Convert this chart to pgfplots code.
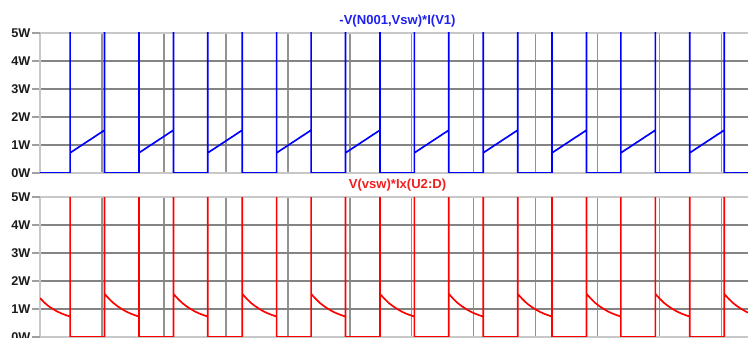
\documentclass[border=0pt]{standalone}
\usepackage{pgfplots}
\pgfplotsset{compat=1.18}
\usepackage{fontspec}
\setmainfont{Liberation Sans}
\definecolor{frame}{HTML}{C8C8C8}
\definecolor{hgrid}{HTML}{848484}
\definecolor{vgrid}{HTML}{929292}
\definecolor{tickc}{HTML}{A0A0A0}
\definecolor{lbl}{HTML}{1A1A1A}
\pgfplotsset{
  lt/.style={
    scale only axis, width=536.25pt, height=105pt,
    xmin=0, xmax=11.538, ymin=0, ymax=5,
    xtick={1,...,11}, xticklabels={}, xtick style={draw=none},
    ytick={1,2,3,4}, yticklabels={1W,2W,3W,4W},
    extra y ticks={0,5}, extra y tick labels={0W,5W},
    extra y tick style={grid=none},
    grid=major,
    x grid style={vgrid, line width=1pt},
    y grid style={hgrid, line width=1.05pt},
    tick align=outside, major tick length=6pt,
    ytick style={tickc, line width=1pt},
    yticklabel style={font=\bfseries\fontsize{9.5}{10}\selectfont, text=lbl, inner sep=1pt},
    axis line style={frame, line width=1pt},
    title style={font=\bfseries\fontsize{9.8}{11}\selectfont, at={(0.5,1)}, anchor=center, yshift=3pt},
    clip=true,
  }
}
\begin{document}
\begin{tikzpicture}
\path[use as bounding box] (0,0) rectangle (561pt,253.5pt);
\clip (0,0) rectangle (561pt,253.5pt);
\begin{axis}[lt, at={(30pt,123.75pt)}, anchor=south west,
  title={\textcolor[HTML]{2020F0}{-V(N001,Vsw)*I(V1)}}]
\addplot[blue, line width=1.25pt, line join=round] coordinates {
(0,0)
(0.486,0)(0.486,8)(0.486,0.72)(1.042,1.53)(1.042,8)(1.042,0)
(1.597,0)(1.597,8)(1.597,0.72)(2.153,1.53)(2.153,8)(2.153,0)
(2.708,0)(2.708,8)(2.708,0.72)(3.264,1.53)(3.264,8)(3.264,0)
(3.819,0)(3.819,8)(3.819,0.72)(4.375,1.53)(4.375,8)(4.375,0)
(4.930,0)(4.930,8)(4.930,0.72)(5.486,1.53)(5.486,8)(5.486,0)
(6.041,0)(6.041,8)(6.041,0.72)(6.597,1.53)(6.597,8)(6.597,0)
(7.152,0)(7.152,8)(7.152,0.72)(7.708,1.53)(7.708,8)(7.708,0)
(8.263,0)(8.263,8)(8.263,0.72)(8.819,1.53)(8.819,8)(8.819,0)
(9.374,0)(9.374,8)(9.374,0.72)(9.930,1.53)(9.930,8)(9.930,0)
(10.485,0)(10.485,8)(10.485,0.72)(11.041,1.53)(11.041,8)(11.041,0)
(11.6,0)
};
\end{axis}
\begin{axis}[lt, at={(30pt,0.75pt)}, anchor=south west,
  title={\textcolor[HTML]{F02020}{V(vsw)*Ix(U2:D)}}]
\addplot[red, line width=1.25pt, line join=round] coordinates {
(0,1.39)(0.070,1.23)(0.139,1.10)(0.209,1.00)(0.278,0.91)(0.348,0.84)(0.417,0.78)
(0.486,0.73)(0.486,8)(0.486,0)(1.042,0)(1.042,8)(1.042,1.54)
(1.112,1.37)(1.181,1.22)(1.251,1.10)(1.320,1.00)(1.390,0.91)(1.459,0.84)(1.529,0.78)
(1.597,0.73)(1.597,8)(1.597,0)(2.153,0)(2.153,8)(2.153,1.54)
(2.223,1.37)(2.292,1.22)(2.362,1.10)(2.431,1.00)(2.501,0.91)(2.570,0.84)(2.640,0.78)
(2.708,0.73)(2.708,8)(2.708,0)(3.264,0)(3.264,8)(3.264,1.54)
(3.334,1.37)(3.403,1.22)(3.473,1.10)(3.542,1.00)(3.612,0.91)(3.681,0.84)(3.751,0.78)
(3.819,0.73)(3.819,8)(3.819,0)(4.375,0)(4.375,8)(4.375,1.54)
(4.445,1.37)(4.514,1.22)(4.584,1.10)(4.653,1.00)(4.723,0.91)(4.792,0.84)(4.862,0.78)
(4.930,0.73)(4.930,8)(4.930,0)(5.486,0)(5.486,8)(5.486,1.54)
(5.556,1.37)(5.625,1.22)(5.695,1.10)(5.764,1.00)(5.834,0.91)(5.903,0.84)(5.973,0.78)
(6.041,0.73)(6.041,8)(6.041,0)(6.597,0)(6.597,8)(6.597,1.54)
(6.667,1.37)(6.736,1.22)(6.806,1.10)(6.875,1.00)(6.945,0.91)(7.014,0.84)(7.084,0.78)
(7.152,0.73)(7.152,8)(7.152,0)(7.708,0)(7.708,8)(7.708,1.54)
(7.778,1.37)(7.847,1.22)(7.917,1.10)(7.986,1.00)(8.056,0.91)(8.125,0.84)(8.195,0.78)
(8.263,0.73)(8.263,8)(8.263,0)(8.819,0)(8.819,8)(8.819,1.54)
(8.889,1.37)(8.958,1.22)(9.028,1.10)(9.097,1.00)(9.167,0.91)(9.236,0.84)(9.306,0.78)
(9.374,0.73)(9.374,8)(9.374,0)(9.930,0)(9.930,8)(9.930,1.54)
(10.000,1.37)(10.069,1.22)(10.139,1.10)(10.208,1.00)(10.278,0.91)(10.347,0.84)(10.417,0.78)
(10.485,0.73)(10.485,8)(10.485,0)(11.041,0)(11.041,8)(11.041,1.54)
(11.111,1.37)(11.180,1.22)(11.250,1.10)(11.319,1.00)(11.389,0.91)(11.458,0.84)(11.528,0.78)
(11.597,0.73)
};
\end{axis}
\end{tikzpicture}
\end{document}
